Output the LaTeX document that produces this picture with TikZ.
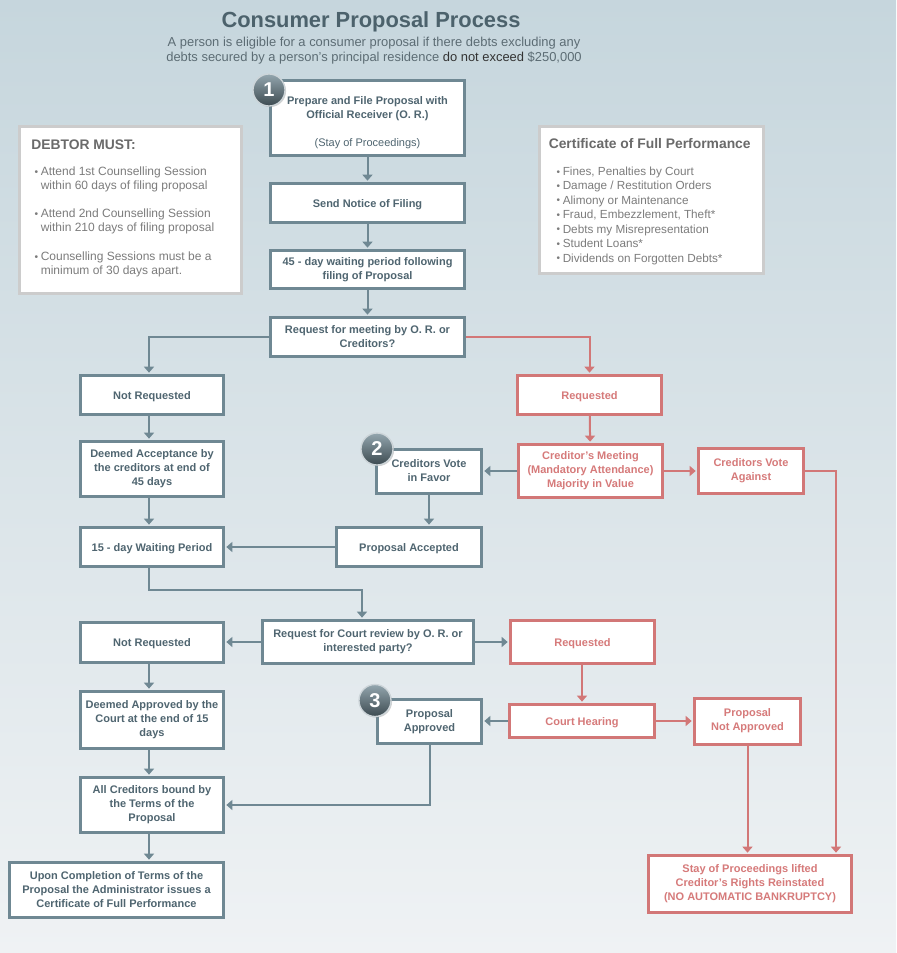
\documentclass[tikz,border=0pt]{standalone}
\usepackage{fontspec}
\setmainfont{Liberation Sans}
\usetikzlibrary{arrows.meta,shadows,calc}
\definecolor{slate}{HTML}{6F8893}
\definecolor{slatetxt}{HTML}{4F6570}
\definecolor{redb}{HTML}{D27777}
\definecolor{redt}{HTML}{D67A7A}
\definecolor{titlec}{HTML}{4C626C}
\definecolor{subc}{HTML}{5C6C74}
\definecolor{bgtop}{HTML}{C6D6DD}
\definecolor{bgmid}{HTML}{DCE4E8}
\definecolor{bgbot}{HTML}{EFF2F4}
\definecolor{sidegray}{HTML}{7C7C7C}
\definecolor{sidehead}{HTML}{6A6A6A}
\definecolor{sideborder}{HTML}{CCCCCC}
\newcommand\mybul{\llap{\raisebox{0.2pt}{\scalebox{0.85}{\textbullet}}\hspace{2pt}}}
\begin{document}
\begin{tikzpicture}[x=0.75pt,y=-0.75pt,
  fl/.style={draw=slate, line width=2.25pt, fill=white, align=center, text=slatetxt, inner sep=1pt,
    font=\fontsize{8.25}{10.5}\selectfont\bfseries, execute at begin node={\rule{0pt}{9pt}}},
  rfl/.style={fl, draw=redb, text=redt},
  sarr/.style={draw=slate, line width=1.5pt, -{Triangle[width=7.5pt,length=4.5pt]}, shorten >=1pt},
  rarr/.style={sarr, draw=redb},
  numc/.style={circle, minimum size=24pt, inner sep=0pt, top color=slate!75!white, bottom color=slate!55!black,
    draw=slate!35!white, line width=1pt, text=white, font=\fontsize{15}{15}\selectfont\bfseries,
    drop shadow={opacity=0.35, shadow xshift=0.8pt, shadow yshift=-0.8pt}},
  side/.style={draw=sideborder, line width=2pt, fill=white, inner sep=0pt,
    drop shadow={opacity=0.25, shadow xshift=1.2pt, shadow yshift=-1.2pt}},
  sidetxt/.style={inner sep=0pt, align=left, text=sidegray, font=\fontsize{9}{10.5}\selectfont},
  certtxt/.style={inner sep=0pt, align=left, text=sidegray, font=\fontsize{8.8}{10.85}\selectfont},
  sidehd/.style={inner sep=0pt, text=sidehead, font=\fontsize{10.4}{12}\selectfont\bfseries},
]
\useasboundingbox (0,0) rectangle (896,953);
\shade[top color=bgtop, middle color=bgmid, bottom color=bgbot] (0,0) rectangle (896,953);

% title
\node[anchor=base, inner sep=0pt, text=titlec, font=\fontsize{16.4}{20}\selectfont\bfseries] (title) at (371,27.3) {Consumer Proposal Process};
\node[anchor=base, inner sep=0pt, text=subc, font=\fontsize{9.7}{11}\selectfont] (sub1) at (374,46.7) {A person is eligible for a consumer proposal if there debts excluding any};
\node[anchor=base, inner sep=0pt, text=subc, font=\fontsize{9.7}{11}\selectfont] (sub2) at (374,61.7) {debts secured by a person’s principal residence \textcolor{black!80}{do not exceed} \$250,000};

% side boxes
\node[side, minimum width=166.5pt, minimum height=125.25pt] (debtor) at (130.5,210) {};
\node[sidehd, anchor=base west] (dhead) at (31,149) {DEBTOR MUST:};
\node[sidetxt, anchor=north west] (d1) at (40.5,166.5) {\mybul Attend 1st Counselling Session\\within 60 days of filing proposal};
\node[sidetxt, anchor=north west] (d2) at (40.5,208.5) {\mybul Attend 2nd Counselling Session\\within 210 days of filing proposal};
\node[sidetxt, anchor=north west] (d3) at (40.5,251.5) {\mybul Counselling Sessions must be a\\minimum of 30 days apart.};

\node[side, minimum width=168pt, minimum height=110.25pt] (cert) at (651.5,200) {};
\node[sidehd, anchor=base west] (chead) at (548.5,148) {Certificate of Full Performance};
\node[certtxt, anchor=north west] (clist) at (562.5,166.5) {\mybul Fines, Penalties by Court\\\mybul Damage / Restitution Orders\\\mybul Alimony or Maintenance\\\mybul Fraud, Embezzlement, Theft*\\\mybul Debts my Misrepresentation\\\mybul Student Loans*\\\mybul Dividends on Forgotten Debts*};

% flow boxes
\node[fl, minimum width=145.5pt, minimum height=56.25pt] (prep) at (367.5,118) {\rule{0pt}{13pt}Prepare and File Proposal with\\Official Receiver (O. R.)\\[10.5pt]{\mdseries (Stay of Proceedings)}};
\node[fl, minimum width=145.5pt, minimum height=29.25pt] (notice) at (367.5,203) {Send Notice of Filing};
\node[fl, minimum width=145.5pt, minimum height=28.5pt] (wait45) at (367.5,269.5) {45 - day waiting period following\\filing of Proposal};
\node[fl, minimum width=145.5pt, minimum height=29.25pt] (reqmeet) at (367.5,337) {Request for meeting by O. R. or\\Creditors?};
\node[fl, minimum width=107.25pt, minimum height=29.25pt] (notreq1) at (152,395) {Not Requested};
\node[rfl, minimum width=108pt, minimum height=29.25pt] (req1) at (589.5,395) {Requested};
\node[fl, minimum width=107.25pt, minimum height=41.25pt] (deemacc) at (152,469) {Deemed Acceptance by\\the creditors at end of\\45 days};
\node[fl, minimum width=78.75pt, minimum height=33pt] (favor) at (429,471) {Creditors Vote\\in Favor};
\node[rfl, minimum width=108pt, minimum height=39.75pt] (meeting) at (590.5,471) {Creditor’s Meeting\\(Mandatory Attendance)\\Majority in Value};
\node[rfl, minimum width=78.75pt, minimum height=33.75pt] (against) at (751,471) {Creditors Vote\\Against};
\node[fl, minimum width=107.25pt, minimum height=29.25pt] (wait15) at (152,547) {15 - day Waiting Period};
\node[fl, minimum width=108.75pt, minimum height=29.25pt] (accepted) at (409,547) {Proposal Accepted};
\node[fl, minimum width=107.25pt, minimum height=30pt] (notreq2) at (152,642) {Not Requested};
\node[fl, minimum width=158.25pt, minimum height=32.25pt] (reqcourt) at (368,642) {Request for Court review by O. R. or\\interested party?};
\node[rfl, minimum width=108pt, minimum height=32.25pt] (req2) at (582.5,642) {Requested};
\node[fl, minimum width=107.25pt, minimum height=42.75pt] (deemapp) at (152,720) {Deemed Approved by the\\Court at the end of 15\\days};
\node[fl, minimum width=78pt, minimum height=33pt] (approved) at (429.5,721.5) {Proposal\\Approved};
\node[rfl, minimum width=108.75pt, minimum height=24.75pt] (hearing) at (582,721) {Court Hearing};
\node[rfl, minimum width=79.5pt, minimum height=34.5pt] (notapp) at (747.5,721) {Proposal\\Not Approved};
\node[fl, minimum width=107.25pt, minimum height=41.25pt] (bound) at (152,805) {All Creditors bound by\\the Terms of the\\Proposal};
\node[fl, minimum width=160.5pt, minimum height=41.25pt] (completion) at (116.5,890) {Upon Completion of Terms of the\\Proposal the Administrator issues a\\Certificate of Full Performance};
\node[rfl, minimum width=152.25pt, minimum height=42.75pt] (stay) at (750,884) {Stay of Proceedings lifted\\Creditor’s Rights Reinstated\\(NO AUTOMATIC BANKRUPTCY)};

% helper coordinates
\coordinate (lx) at (149,0);
\coordinate (cx) at (362,0);
\coordinate (rx) at (836,0);
\coordinate (j1) at (0,590);

% connectors
\draw[sarr] (prep) -- (notice);
\draw[sarr] (notice) -- (wait45);
\draw[sarr] (wait45) -- (reqmeet);
\draw[sarr] (reqmeet.west) -| (notreq1.north -| lx);
\draw[rarr] (reqmeet.east) -| (req1.north);
\draw[sarr] (notreq1.south -| lx) -- (deemacc.north -| lx);
\draw[sarr] (deemacc.south -| lx) -- (wait15.north -| lx);
\draw[rarr] (req1) -- (meeting);
\draw[sarr] (meeting) -- (favor);
\draw[rarr] (meeting) -- (against);
\draw[sarr] (favor.south) -- (favor.south |- accepted.north);
\draw[sarr] (accepted) -- (wait15);
\draw[sarr] (wait15.south -| lx) -- (j1 -| lx) -- (j1 -| cx) -- (reqcourt.north -| cx);
\draw[sarr] (reqcourt) -- (notreq2);
\draw[sarr] (reqcourt) -- (req2);
\draw[rarr] (req2.south -| hearing.north) -- (hearing.north);
\draw[sarr] (hearing) -- (hearing.west -| approved.east);
\draw[rarr] (hearing) -- (hearing.east -| notapp.west);
\draw[sarr] (notreq2.south -| lx) -- (deemapp.north -| lx);
\draw[sarr] (deemapp.south -| lx) -- (bound.north -| lx);
\draw[sarr] (bound.south -| lx) -- (completion.north -| lx);
\draw[sarr] (approved.south) |- (bound.east);
\draw[rarr] (notapp.south) -- (notapp.south |- stay.north);
\draw[rarr] (against.east) -| (stay.north -| rx);

% numbered circles
\node[numc] (n1) at (269,90) {1};
\node[numc] (n2) at (377,449) {2};
\node[numc] (n3) at (375,700.5) {3};
\end{tikzpicture}
\end{document}
